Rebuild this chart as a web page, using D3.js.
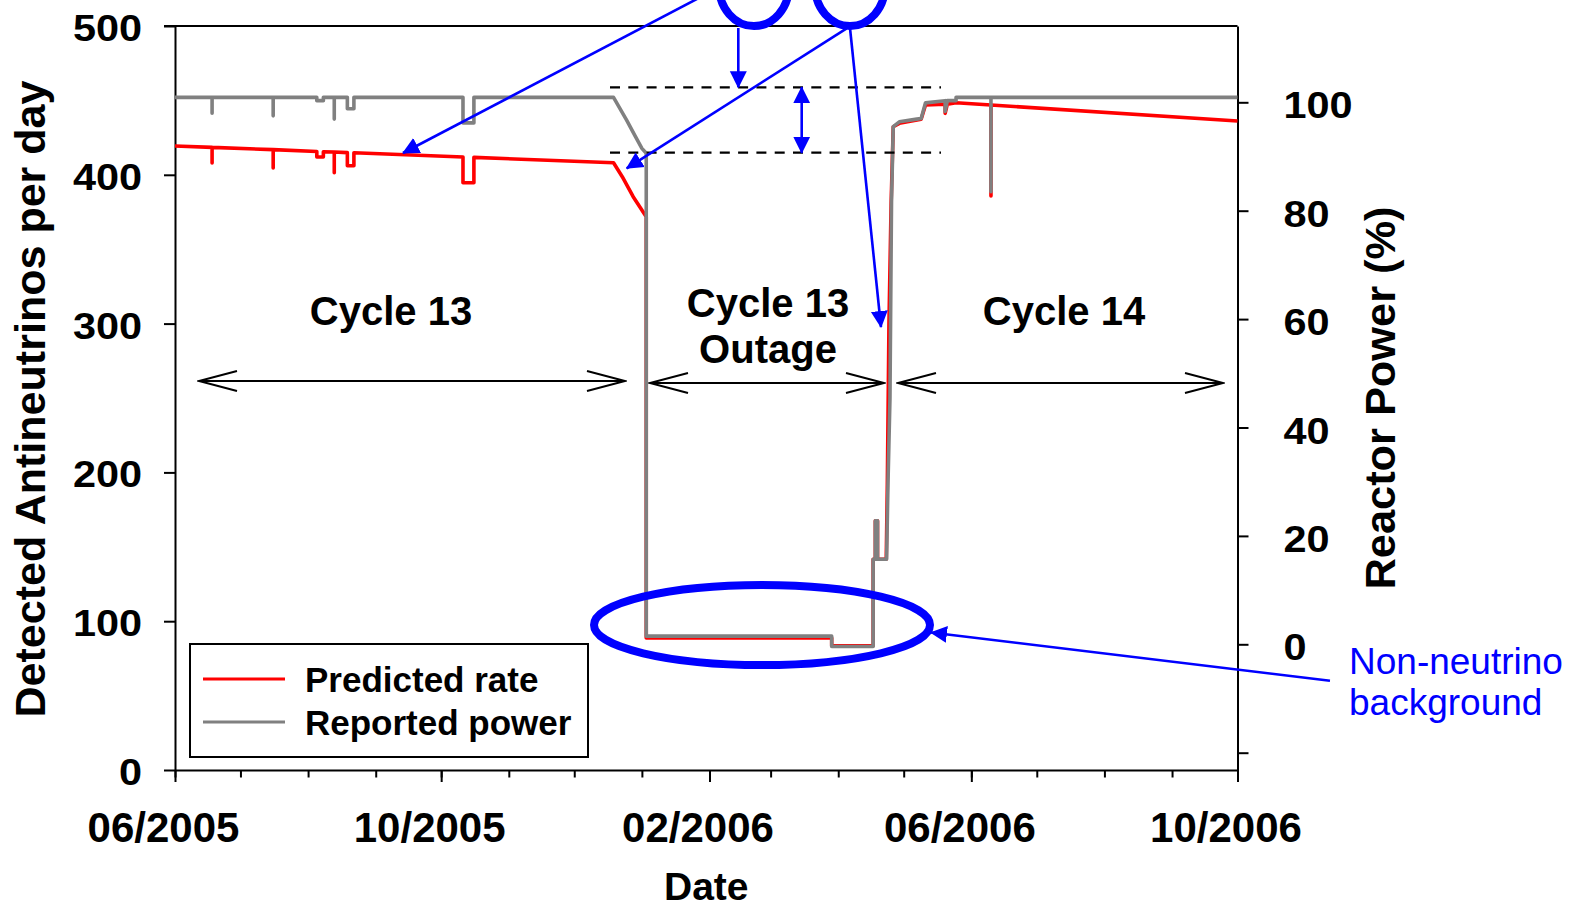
<!DOCTYPE html>
<html>
<head>
<meta charset="utf-8">
<script src="https://cdn.jsdelivr.net/npm/d3@7"></script>
<style>
  body { margin: 0; background: #fff; }
  svg { display: block; font-family: "Liberation Sans", Arial, sans-serif; }
</style>
</head>
<body>
<svg id="chart"></svg>
<script>
// ---- chart values ----
const dateTicks = ['2005-06-01', '2005-10-01', '2006-02-01', '2006-06-01', '2006-10-01'];
const rateTicks = [0, 100, 200, 300, 400, 500];
const powerTicks = [-20, 0, 20, 40, 60, 80, 100];

// predicted antineutrino rate (per day)
const predictedRate = [
  ['2005-06-01', 419.4],
  ['2005-06-18', 418.4], ['2005-06-18', 408.0], ['2005-06-18', 418.4],
  ['2005-07-16', 416.9], ['2005-07-16', 404.6], ['2005-07-16', 416.9],
  ['2005-08-05', 415.7], ['2005-08-05', 412.0], ['2005-08-08', 412.0], ['2005-08-08', 415.5],
  ['2005-08-13', 415.3], ['2005-08-13', 401.4], ['2005-08-13', 415.3],
  ['2005-08-19', 414.9], ['2005-08-19', 406.1], ['2005-08-22', 406.1], ['2005-08-22', 414.8],
  ['2005-10-11', 412.0], ['2005-10-11', 394.7], ['2005-10-16', 394.7], ['2005-10-16', 411.7],
  ['2005-12-19', 408.1],
  ['2005-12-23', 398.7],
  ['2005-12-28', 385.3],
  ['2006-01-03', 371.8], ['2006-01-03', 88.7],
  ['2006-03-29', 88.7], ['2006-03-29', 83.5],
  ['2006-04-17', 83.5], ['2006-04-17', 141.6],
  ['2006-04-18', 141.6], ['2006-04-18', 167.5], ['2006-04-19', 167.5], ['2006-04-19', 141.6],
  ['2006-04-23', 141.6],
  ['2006-04-23 12:00', 192.0],
  ['2006-04-24 06:00', 300.0],
  ['2006-04-25 06:00', 381.7],
  ['2006-04-26 05:00', 432.3],
  ['2006-04-29', 434.6],
  ['2006-05-09', 437.3],
  ['2006-05-11', 446.9],
  ['2006-05-20', 447.5], ['2006-05-20', 441.3], ['2006-05-21', 447.5],
  ['2006-05-25', 448.4],
  ['2006-06-10', 446.9], ['2006-06-10', 385.8], ['2006-06-10', 446.9],
  ['2006-10-01', 436.2]
];

// reported reactor power (%)
const reportedPower = [
  ['2005-06-01', 100.9],
  ['2005-06-18', 100.9], ['2005-06-18', 98.0], ['2005-06-18', 100.9],
  ['2005-07-16', 100.9], ['2005-07-16', 97.5], ['2005-07-16', 100.9],
  ['2005-08-05', 100.9], ['2005-08-05', 100.3], ['2005-08-08', 100.3], ['2005-08-08', 100.9],
  ['2005-08-13', 100.9], ['2005-08-13', 96.9], ['2005-08-13', 100.9],
  ['2005-08-19', 100.9], ['2005-08-19', 98.8], ['2005-08-22', 98.8], ['2005-08-22', 100.9],
  ['2005-10-11', 100.9], ['2005-10-11', 96.2], ['2005-10-16', 96.2], ['2005-10-16', 100.9],
  ['2005-12-19', 100.9],
  ['2005-12-25', 96.7],
  ['2005-12-29', 93.7],
  ['2006-01-01', 91.5],
  ['2006-01-03', 90.6], ['2006-01-03', 1.5],
  ['2006-03-29', 1.5], ['2006-03-29', -0.4],
  ['2006-04-17', -0.4], ['2006-04-17', 15.7],
  ['2006-04-18', 15.7], ['2006-04-18', 22.8], ['2006-04-19', 22.8], ['2006-04-19', 15.7],
  ['2006-04-23 04:00', 15.7],
  ['2006-04-23 19:00', 29.6],
  ['2006-04-24 17:00', 45.4],
  ['2006-04-25 10:00', 81.6],
  ['2006-04-26 05:00', 95.5],
  ['2006-04-29', 96.4],
  ['2006-05-07', 96.9],
  ['2006-05-09', 97.0],
  ['2006-05-11', 99.9],
  ['2006-05-20', 100.3], ['2006-05-20', 98.3], ['2006-05-21', 100.3],
  ['2006-05-25', 100.3], ['2006-05-25', 100.9],
  ['2006-06-10', 100.9], ['2006-06-10', 83.5], ['2006-06-10', 100.9],
  ['2006-10-01', 100.9]
];

const legendItems = [
  { label: 'Predicted rate', color: '#ff0000' },
  { label: 'Reported power', color: '#808080' }
];

const cycleLabels = [
  { lines: ['Cycle 13'], x: 391, y: 325 },
  { lines: ['Cycle 13', 'Outage'], x: 768, y: 317 },
  { lines: ['Cycle 14'], x: 1064, y: 325 }
];

// ---- setup ----
const W = 1581, H = 909;
const L = 175, R = 1237.5, T = 26, B = 770;

const parseTime = d3.utcParse('%Y-%m-%d %H:%M');
const parseDay = d3.utcParse('%Y-%m-%d');
const parse = s => parseTime(s) || parseDay(s);

const svg = d3.select('#chart').attr('width', W).attr('height', H);
svg.append('rect').attr('width', W).attr('height', H).attr('fill', '#fff');

const x = d3.scaleUtc().domain([parse('2005-06-01'), parse('2006-10-01')]).range([L, R]);
const yRate = d3.scaleLinear().domain([0, 500]).range([B, T]);
const yPower = d3.scaleLinear().domain([0, 100]).range([644.3, 102.3]);
yPower.domain([yPower.invert(B), yPower.invert(T)]).range([B, T]);

// markers
const defs = svg.append('defs');
defs.append('marker')
  .attr('id', 'blueHead')
  .attr('markerUnits', 'userSpaceOnUse')
  .attr('viewBox', '0 -9 17 18')
  .attr('refX', 16).attr('refY', 0)
  .attr('markerWidth', 17).attr('markerHeight', 18)
  .attr('orient', 'auto-start-reverse')
  .append('path').attr('d', 'M0,-8.5L17,0L0,8.5Z').attr('fill', '#0000ff');

defs.append('marker')
  .attr('id', 'openHead')
  .attr('markerUnits', 'userSpaceOnUse')
  .attr('viewBox', '-40 -12 42 24')
  .attr('refX', 0).attr('refY', 0)
  .attr('markerWidth', 42).attr('markerHeight', 24)
  .attr('orient', 'auto-start-reverse')
  .append('path').attr('d', 'M-38,-10L0,0L-38,10')
  .attr('fill', 'none').attr('stroke', '#000').attr('stroke-width', 2);

// ---- axes ----
function styleAxis(g, size) {
  g.attr('font-family', null).attr('font-size', size).attr('font-weight', 'bold');
  g.selectAll('.domain, line').attr('stroke', '#000').attr('stroke-width', 2);
  g.selectAll('text').attr('fill', '#000');
}

// top frame
svg.append('line').attr('x1', L - 11).attr('x2', R).attr('y1', T).attr('y2', T)
  .attr('stroke', '#000').attr('stroke-width', 2);

const gxMinor = svg.append('g').attr('transform', `translate(0,${B})`)
  .call(d3.axisBottom(x).ticks(d3.utcMonth.every(1)).tickSize(7.5).tickSizeOuter(0).tickFormat(''));
styleAxis(gxMinor, 42);

const gxMajor = svg.append('g').attr('transform', `translate(0,${B})`)
  .call(d3.axisBottom(x).tickValues(dateTicks.map(parse)).tickSize(12).tickSizeOuter(0)
    .tickFormat(d3.utcFormat('%m/%Y')));
gxMajor.select('.domain').remove();
styleAxis(gxMajor, 42);
gxMajor.selectAll('text').attr('x', -12).attr('y', 72).attr('dy', null);

const gyL = svg.append('g').attr('transform', `translate(${L},0)`)
  .call(d3.axisLeft(yRate).tickValues(rateTicks).tickSize(11).tickSizeOuter(0));
styleAxis(gyL, 37);
gyL.selectAll('text').attr('x', null).attr('dy', null)
  .attr('transform', 'translate(-33,14.5) scale(1.12,1)');

const gyR = svg.append('g').attr('transform', `translate(${R},0)`)
  .call(d3.axisRight(yPower).tickValues(powerTicks).tickSize(11).tickSizeOuter(0)
    .tickFormat(d => d < 0 ? '' : d));
styleAxis(gyR, 37);
gyR.selectAll('text').attr('x', null).attr('dy', null)
  .attr('transform', 'translate(46,15.5) scale(1.12,1)');

// axis titles
svg.append('text')
  .attr('transform', 'translate(45,399) rotate(-90)')
  .attr('text-anchor', 'middle').attr('font-size', 42).attr('font-weight', 'bold')
  .attr('textLength', 637).attr('lengthAdjust', 'spacingAndGlyphs')
  .text('Detected Antineutrinos per day');

svg.append('text')
  .attr('transform', 'translate(1395,398) rotate(-90)')
  .attr('text-anchor', 'middle').attr('font-size', 43).attr('font-weight', 'bold')
  .attr('textLength', 383).attr('lengthAdjust', 'spacingAndGlyphs')
  .text('Reactor Power (%)');

svg.append('text')
  .attr('x', (L + R) / 2).attr('y', 900)
  .attr('text-anchor', 'middle').attr('font-size', 39).attr('font-weight', 'bold')
  .text('Date');

// ---- series ----
const rateLine = d3.line().x(d => x(parse(d[0]))).y(d => yRate(d[1]));
const powerLine = d3.line().x(d => x(parse(d[0]))).y(d => yPower(d[1]));

svg.append('path').datum(predictedRate)
  .attr('d', rateLine)
  .attr('fill', 'none').attr('stroke', '#ff0000').attr('stroke-width', 3.6)
  .attr('stroke-linejoin', 'round');

svg.append('path').datum(reportedPower)
  .attr('d', powerLine)
  .attr('fill', 'none').attr('stroke', '#808080').attr('stroke-width', 3.6)
  .attr('stroke-linejoin', 'round');

// ---- cycle annotations ----
const gCycle = svg.append('g').attr('font-size', 40).attr('font-weight', 'bold')
  .attr('text-anchor', 'middle');
cycleLabels.forEach(c => {
  const t = gCycle.append('text').attr('x', c.x).attr('y', c.y);
  c.lines.forEach((ln, i) => t.append('tspan').attr('x', c.x).attr('dy', i ? 46 : 0).text(ln));
});

const spans = [[199, 625, 381], [650, 884, 383], [898, 1223, 383]];
svg.append('g').selectAll('line').data(spans).join('line')
  .attr('x1', d => d[0]).attr('x2', d => d[1])
  .attr('y1', d => d[2]).attr('y2', d => d[2])
  .attr('stroke', '#000').attr('stroke-width', 2)
  .attr('marker-start', 'url(#openHead)').attr('marker-end', 'url(#openHead)');

// ---- blue annotations ----
const gBlue = svg.append('g');

// dashed reference lines
gBlue.selectAll('line.dash').data([87.3, 152.7]).join('line')
  .attr('class', 'dash')
  .attr('x1', 610).attr('x2', 941).attr('y1', d => d).attr('y2', d => d)
  .attr('stroke', '#000').attr('stroke-width', 2.3).attr('stroke-dasharray', '10,8.3');

// circles at the top
gBlue.selectAll('ellipse.top').data([754, 850]).join('ellipse')
  .attr('class', 'top')
  .attr('cx', d => d).attr('cy', -14).attr('rx', 35).attr('ry', 40)
  .attr('fill', 'none').attr('stroke', '#0000ff').attr('stroke-width', 8);

// background ellipse
gBlue.append('ellipse')
  .attr('cx', 762).attr('cy', 625).attr('rx', 168).attr('ry', 40)
  .attr('fill', 'none').attr('stroke', '#0000ff').attr('stroke-width', 8);

const arrows = [
  [704.5, -5, 403, 153],
  [738.3, 28, 738.3, 87.3],
  [846.7, 28.3, 626.7, 168.3],
  [850, 28, 881, 327],
  [1330, 680.7, 931, 632.5]
];
gBlue.selectAll('line.arrow').data(arrows).join('line')
  .attr('class', 'arrow')
  .attr('x1', d => d[0]).attr('y1', d => d[1])
  .attr('x2', d => d[2]).attr('y2', d => d[3])
  .attr('stroke', '#0000ff').attr('stroke-width', 2.6)
  .attr('marker-end', 'url(#blueHead)');

gBlue.append('line')
  .attr('x1', 801.7).attr('x2', 801.7).attr('y1', 87.3).attr('y2', 152.7)
  .attr('stroke', '#0000ff').attr('stroke-width', 2.6)
  .attr('marker-start', 'url(#blueHead)').attr('marker-end', 'url(#blueHead)');

const bgText = gBlue.append('text').attr('font-size', 37).attr('fill', '#0000ff');
bgText.append('tspan').attr('x', 1349).attr('y', 674).text('Non-neutrino');
bgText.append('tspan').attr('x', 1349).attr('y', 715).text('background');

// ---- legend ----
const gLeg = svg.append('g');
gLeg.append('rect')
  .attr('x', 190).attr('y', 644).attr('width', 398).attr('height', 113)
  .attr('fill', '#fff').attr('stroke', '#000').attr('stroke-width', 2);
const items = gLeg.selectAll('g.item').data(legendItems).join('g')
  .attr('class', 'item')
  .attr('transform', (d, i) => `translate(0,${679 + i * 43})`);
items.append('line')
  .attr('x1', 203).attr('x2', 285)
  .attr('stroke', d => d.color).attr('stroke-width', 3);
items.append('text')
  .attr('x', 305).attr('y', 13)
  .attr('font-size', 35).attr('font-weight', 'bold')
  .text(d => d.label);
</script>
</body>
</html>
